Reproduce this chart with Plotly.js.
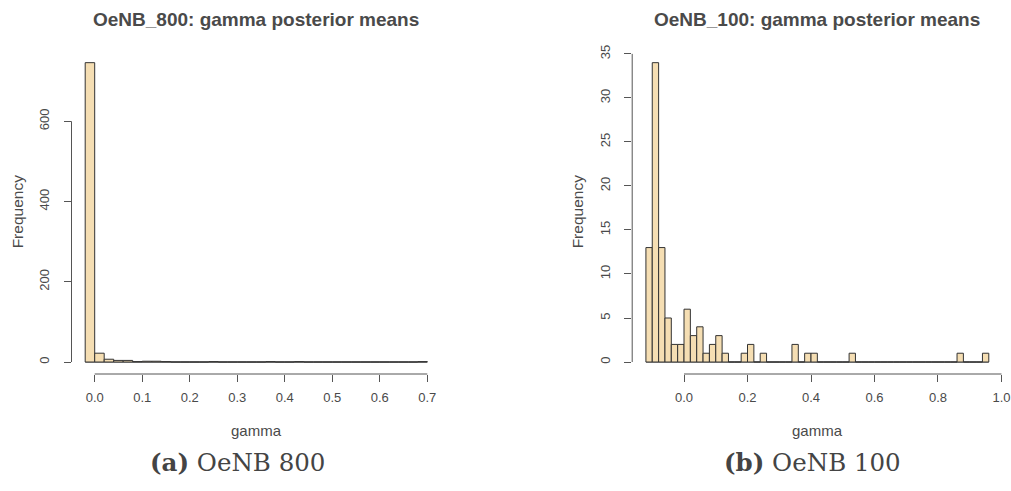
<!DOCTYPE html>
<html>
<head>
<meta charset="utf-8">
<script src="https://cdn.plot.ly/plotly-3.0.1.min.js"></script>
<style>html,body{margin:0;padding:0;background:#fff;}#chart{width:1011px;height:491px;}</style>
</head>
<body>
<div id="chart"></div>
<script>
// ---- data (histogram bin counts, bin width 0.02) ----
const binStart800 = -0.02;
const binWidth800 = 0.02;
const counts800 = [746,22,7,4,4,1,2,2,1,0,0,0,0,1,0,0,0,0,0,1,0,0,1,
                   0,0,0,0,0,0,0,0,0,0,0,0,1];
const binStart100 = -0.12;
const binWidth100 = 0.02;
const counts100 = [13,34,13,5,2,2,6,3,4,1,2,3,1,0,0,1,2,0,1,0,0,0,0,2,0,1,1,0,0,0,0,0,1,
                   0,0,0,0,0,0,0,0,0,0,0,0,0,0,0,0,
                   1,0,0,0,1];
const xTicks800 = [0.0,0.1,0.2,0.3,0.4,0.5,0.6,0.7];
const yTicks800 = [0,200,400,600];
const xTicks100 = [0.0,0.2,0.4,0.6,0.8,1.0];
const yTicks100 = [0,5,10,15,20,25,30,35];
const titles = ["OeNB_800: gamma posterior means","OeNB_100: gamma posterior means"];
const captions = ["<b>(a)</b> OeNB 800","<b>(b)</b> OeNB 100"];

function centers(start, w, n){ const c=[]; for(let i=0;i<n;i++) c.push(start + w*(i+0.5)); return c; }

const FILL = '#F5DEB3', EDGE = '#333333', TXT = '#4a4a4a', AX = '#555555';
const FONT = 'Liberation Sans, Arial, sans-serif';
const SERIF = 'DejaVu Serif, Liberation Serif, serif';

const W = 1011, H = 491;
const L1 = [71.5, 441], L2 = [632.2, 1002.5];
const plotTop = 50.7, plotBot = 374;
const yd = [1 - plotBot/H, 1 - plotTop/H];

function ext(a, b){ const d=(b-a)*0.04; return [a-d, b+d]; }

const n800 = counts800.length, n100 = counts100.length;
const xr1 = ext(binStart800, binStart800 + binWidth800*n800);
const yr1 = ext(0, Math.max(...counts800));
const xr2 = ext(binStart100, binStart100 + binWidth100*n100);
const yr2 = ext(0, Math.max(...counts100));

const traces = [
  {type:'bar', x:centers(binStart800,binWidth800,n800), y:counts800, width:binWidth800,
   marker:{color:FILL, line:{color:EDGE, width:1}}, xaxis:'x', yaxis:'y', hoverinfo:'x+y'},
  {type:'bar', x:centers(binStart100,binWidth100,n100), y:counts100, width:binWidth100,
   marker:{color:FILL, line:{color:EDGE, width:1}}, xaxis:'x2', yaxis:'y2', hoverinfo:'x+y'}
];

function xaxis(dom, range, ticks, fmt){
  return {domain:dom, range:range, showgrid:false, zeroline:false, showline:false,
    tickmode:'array', tickvals:ticks, tickformat:fmt, ticks:'outside', ticklen:7, tickwidth:1,
    ticklabelstandoff:4,
    tickcolor:AX, tickfont:{family:FONT, size:13, color:TXT}, fixedrange:true};
}
function yaxis(anchor, range, ticks){
  return {domain:yd, range:range, anchor:anchor, showgrid:false, zeroline:false, showline:false,
    tickmode:'array', tickvals:ticks, ticks:'outside', ticklen:7, tickwidth:1, tickangle:-90,
    ticklabelstandoff:9,
    tickcolor:AX, tickfont:{family:FONT, size:13, color:TXT}, fixedrange:true};
}

const layout = {
  width:W, height:H, margin:{l:0,r:0,t:0,b:0}, paper_bgcolor:'#fff', plot_bgcolor:'#fff',
  showlegend:false, bargap:0,
  xaxis: Object.assign(xaxis([L1[0]/W, L1[1]/W], xr1, xTicks800, '.1f'), {anchor:'y'}),
  yaxis: yaxis('x', yr1, yTicks800),
  xaxis2: Object.assign(xaxis([L2[0]/W, L2[1]/W], xr2, xTicks100, '.1f'), {anchor:'y2'}),
  yaxis2: yaxis('x2', yr2, yTicks100),
  shapes: [
    {type:'line', xref:'x', yref:'paper', x0:xTicks800[0], x1:xTicks800[xTicks800.length-1], y0:yd[0], y1:yd[0], line:{color:AX,width:1}},
    {type:'line', xref:'paper', yref:'y', x0:L1[0]/W, x1:L1[0]/W, y0:yTicks800[0], y1:yTicks800[yTicks800.length-1], line:{color:AX,width:1}},
    {type:'line', xref:'x2', yref:'paper', x0:xTicks100[0], x1:xTicks100[xTicks100.length-1], y0:yd[0], y1:yd[0], line:{color:AX,width:1}},
    {type:'line', xref:'paper', yref:'y2', x0:L2[0]/W, x1:L2[0]/W, y0:yTicks100[0], y1:yTicks100[yTicks100.length-1], line:{color:AX,width:1}},
    {type:'line', xref:'x', yref:'y', x0:binStart800, x1:binStart800+binWidth800*n800, y0:0, y1:0, line:{color:'#444',width:1}, layer:'below'},
    {type:'line', xref:'x2', yref:'y2', x0:binStart100, x1:binStart100+binWidth100*n100, y0:0, y1:0, line:{color:'#444',width:1}, layer:'below'}
  ],
  annotations: [
    {text:titles[0], xref:'paper', yref:'paper', x:(L1[0]+L1[1])/2/W, y:1-20/H, showarrow:false, font:{family:FONT,size:19,color:TXT,weight:'bold'}, xanchor:'center', yanchor:'middle'},
    {text:titles[1], xref:'paper', yref:'paper', x:(L2[0]+L2[1])/2/W, y:1-20/H, showarrow:false, font:{family:FONT,size:19,color:TXT,weight:'bold'}, xanchor:'center', yanchor:'middle'},
    {text:'gamma', xref:'paper', yref:'paper', x:(L1[0]+L1[1])/2/W, y:1-430/H, showarrow:false, font:{family:FONT,size:15,color:TXT}, xanchor:'center', yanchor:'middle'},
    {text:'gamma', xref:'paper', yref:'paper', x:(L2[0]+L2[1])/2/W, y:1-430/H, showarrow:false, font:{family:FONT,size:15,color:TXT}, xanchor:'center', yanchor:'middle'},
    {text:'Frequency', xref:'paper', yref:'paper', x:17/W, y:1-(plotTop+plotBot)/2/H, textangle:-90, showarrow:false, font:{family:FONT,size:15.5,color:TXT}, xanchor:'center', yanchor:'middle'},
    {text:'Frequency', xref:'paper', yref:'paper', x:577/W, y:1-(plotTop+plotBot)/2/H, textangle:-90, showarrow:false, font:{family:FONT,size:15.5,color:TXT}, xanchor:'center', yanchor:'middle'},
    {text:captions[0], xref:'paper', yref:'paper', x:237/W, y:1-462/H, showarrow:false, font:{family:SERIF,size:24.5,color:'#444'}, xanchor:'center', yanchor:'middle'},
    {text:captions[1], xref:'paper', yref:'paper', x:812/W, y:1-462/H, showarrow:false, font:{family:SERIF,size:24.5,color:'#444'}, xanchor:'center', yanchor:'middle'}
  ]
};

Plotly.newPlot('chart', traces, layout, {displayModeBar:false, staticPlot:true});
</script>
</body>
</html>
